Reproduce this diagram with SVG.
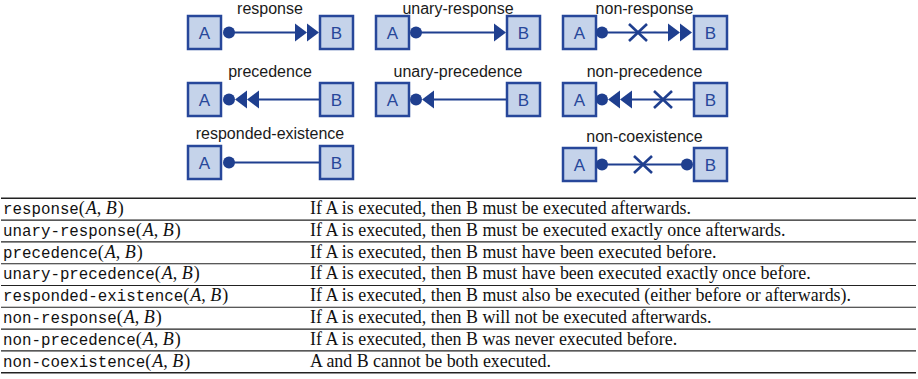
<svg xmlns="http://www.w3.org/2000/svg" width="918" height="379" viewBox="0 0 918 379">
<style>
.box{fill:#c5d3ea;stroke:#27479a;stroke-width:2.5}
.bl{font-family:"Liberation Sans",Arial,sans-serif;font-size:17px;fill:#27479a;text-anchor:middle}
.lab{font-family:"Liberation Sans",Arial,sans-serif;font-size:16px;fill:#1a1a1a;text-anchor:middle}
.ln{stroke:#1f3f8f;stroke-width:2.2;fill:none}
.dot{fill:#1f3f8f}
.tri{fill:#1f3f8f}
.x{stroke:#1f3f8f;stroke-width:2.6;fill:none}
.rule{stroke:#222;stroke-width:1.1}
.rule2{stroke:#222;stroke-width:1.6}
.tt{font-family:"Liberation Mono","Courier New",monospace;font-size:15.8px;fill:#111}
.m{font-family:"Liberation Serif","Times New Roman",serif;font-size:18px;fill:#111}
.mi{font-style:italic}
.d{font-family:"Liberation Serif","Times New Roman",serif;font-size:17.9px;fill:#111}
</style>

<!-- Labels -->
<g id="labels">
<text class="lab" x="270" y="13.5">response</text>
<text class="lab" x="458" y="13.5">unary-response</text>
<text class="lab" x="644.5" y="13.5">non-response</text>
<text class="lab" x="270" y="77">precedence</text>
<text class="lab" x="458" y="77">unary-precedence</text>
<text class="lab" x="644.5" y="77">non-precedence</text>
<text class="lab" x="270" y="139">responded-existence</text>
<text class="lab" x="644.5" y="142">non-coexistence</text>
</g>

<!-- Nodes -->
<g id="resp-A"><rect class="box" x="188" y="16" width="33" height="33"/><text class="bl" x="204.5" y="38.5">A</text></g>
<g id="resp-B"><rect class="box" x="320" y="16" width="33" height="33"/><text class="bl" x="336.5" y="38.5">B</text></g>
<g id="uresp-A"><rect class="box" x="376" y="16" width="33" height="33"/><text class="bl" x="392.5" y="38.5">A</text></g>
<g id="uresp-B"><rect class="box" x="507" y="16" width="33" height="33"/><text class="bl" x="523.5" y="38.5">B</text></g>
<g id="nresp-A"><rect class="box" x="563" y="16" width="33" height="33"/><text class="bl" x="579.5" y="38.5">A</text></g>
<g id="nresp-B"><rect class="box" x="694" y="16" width="33" height="33"/><text class="bl" x="710.5" y="38.5">B</text></g>

<g id="prec-A"><rect class="box" x="188" y="83" width="33" height="33"/><text class="bl" x="204.5" y="105.5">A</text></g>
<g id="prec-B"><rect class="box" x="320" y="83" width="33" height="33"/><text class="bl" x="336.5" y="105.5">B</text></g>
<g id="uprec-A"><rect class="box" x="376" y="83" width="33" height="33"/><text class="bl" x="392.5" y="105.5">A</text></g>
<g id="uprec-B"><rect class="box" x="507" y="83" width="33" height="33"/><text class="bl" x="523.5" y="105.5">B</text></g>
<g id="nprec-A"><rect class="box" x="563" y="83" width="33" height="33"/><text class="bl" x="579.5" y="105.5">A</text></g>
<g id="nprec-B"><rect class="box" x="694" y="83" width="33" height="33"/><text class="bl" x="710.5" y="105.5">B</text></g>

<g id="rex-A"><rect class="box" x="188" y="146" width="33" height="33"/><text class="bl" x="204.5" y="168.5">A</text></g>
<g id="rex-B"><rect class="box" x="320" y="146" width="33" height="33"/><text class="bl" x="336.5" y="168.5">B</text></g>
<g id="ncoex-A"><rect class="box" x="563" y="148" width="33" height="33"/><text class="bl" x="579.5" y="170.5">A</text></g>
<g id="ncoex-B"><rect class="box" x="694" y="148" width="33" height="33"/><text class="bl" x="710.5" y="170.5">B</text></g>

<!-- Connectors -->
<g id="connectors">
<!-- response -->
<line class="ln" x1="229" y1="32.5" x2="300" y2="32.5"/>
<circle class="dot" cx="229" cy="32.5" r="6"/>
<polygon class="tri" points="295,23.5 307,32.5 295,41.5"/>
<polygon class="tri" points="307,23.5 319,32.5 307,41.5"/>
<!-- unary-response -->
<line class="ln" x1="416" y1="32.5" x2="496" y2="32.5"/>
<circle class="dot" cx="416" cy="32.5" r="6"/>
<polygon class="tri" points="494,23.5 506,32.5 494,41.5"/>
<!-- non-response -->
<line class="ln" x1="602" y1="32.5" x2="672" y2="32.5"/>
<circle class="dot" cx="602" cy="32.5" r="6"/>
<path class="x" d="M629,24 L647,41 M647,24 L629,41"/>
<polygon class="tri" points="668,23.5 680,32.5 668,41.5"/>
<polygon class="tri" points="680,23.5 692,32.5 680,41.5"/>

<!-- precedence -->
<line class="ln" x1="255" y1="99.5" x2="319" y2="99.5"/>
<circle class="dot" cx="229" cy="99.5" r="6"/>
<polygon class="tri" points="247,90.5 235,99.5 247,108.5"/>
<polygon class="tri" points="259,90.5 247,99.5 259,108.5"/>
<!-- unary-precedence -->
<line class="ln" x1="430" y1="99.5" x2="506" y2="99.5"/>
<circle class="dot" cx="416" cy="99.5" r="6"/>
<polygon class="tri" points="434,90.5 422,99.5 434,108.5"/>
<!-- non-precedence -->
<line class="ln" x1="628" y1="99.5" x2="693" y2="99.5"/>
<circle class="dot" cx="602" cy="99.5" r="6"/>
<polygon class="tri" points="620,90.5 608,99.5 620,108.5"/>
<polygon class="tri" points="632,90.5 620,99.5 632,108.5"/>
<path class="x" d="M654,91 L672,108 M672,91 L654,108"/>

<!-- responded-existence -->
<line class="ln" x1="229" y1="162.5" x2="319" y2="162.5"/>
<circle class="dot" cx="229" cy="162.5" r="6"/>
<!-- non-coexistence -->
<line class="ln" x1="602" y1="164.5" x2="687" y2="164.5"/>
<circle class="dot" cx="602" cy="164.5" r="6"/>
<circle class="dot" cx="687" cy="164.5" r="6"/>
<path class="x" d="M634,156 L652,173 M652,156 L634,173"/>
</g>

<!-- Table -->
<g id="table">
<line class="rule2" x1="1" y1="198.3" x2="916" y2="198.3"/>
<line class="rule" x1="1" y1="220.1" x2="916" y2="220.1"/>
<line class="rule" x1="1" y1="241.9" x2="916" y2="241.9"/>
<line class="rule" x1="1" y1="263.7" x2="916" y2="263.7"/>
<line class="rule" x1="1" y1="285.5" x2="916" y2="285.5"/>
<line class="rule" x1="1" y1="307.3" x2="916" y2="307.3"/>
<line class="rule" x1="1" y1="329.1" x2="916" y2="329.1"/>
<line class="rule" x1="1" y1="350.9" x2="916" y2="350.9"/>
<line class="rule2" x1="1" y1="372.7" x2="916" y2="372.7"/>

<text x="3" y="214"><tspan class="tt">response</tspan><tspan class="m">(<tspan class="mi" dx="1">A</tspan>,<tspan class="mi" dx="4.5">B</tspan><tspan dx="1">)</tspan></tspan></text>
<text x="3" y="235.8"><tspan class="tt">unary-response</tspan><tspan class="m">(<tspan class="mi" dx="1">A</tspan>,<tspan class="mi" dx="4.5">B</tspan><tspan dx="1">)</tspan></tspan></text>
<text x="3" y="257.6"><tspan class="tt">precedence</tspan><tspan class="m">(<tspan class="mi" dx="1">A</tspan>,<tspan class="mi" dx="4.5">B</tspan><tspan dx="1">)</tspan></tspan></text>
<text x="3" y="279.4"><tspan class="tt">unary-precedence</tspan><tspan class="m">(<tspan class="mi" dx="1">A</tspan>,<tspan class="mi" dx="4.5">B</tspan><tspan dx="1">)</tspan></tspan></text>
<text x="3" y="301.2"><tspan class="tt">responded-existence</tspan><tspan class="m">(<tspan class="mi" dx="1">A</tspan>,<tspan class="mi" dx="4.5">B</tspan><tspan dx="1">)</tspan></tspan></text>
<text x="3" y="323"><tspan class="tt">non-response</tspan><tspan class="m">(<tspan class="mi" dx="1">A</tspan>,<tspan class="mi" dx="4.5">B</tspan><tspan dx="1">)</tspan></tspan></text>
<text x="3" y="344.8"><tspan class="tt">non-precedence</tspan><tspan class="m">(<tspan class="mi" dx="1">A</tspan>,<tspan class="mi" dx="4.5">B</tspan><tspan dx="1">)</tspan></tspan></text>
<text x="3" y="366.6"><tspan class="tt">non-coexistence</tspan><tspan class="m">(<tspan class="mi" dx="1">A</tspan>,<tspan class="mi" dx="4.5">B</tspan><tspan dx="1">)</tspan></tspan></text>

<text class="d" x="310" y="214">If A is executed, then B must be executed afterwards.</text>
<text class="d" x="310" y="235.8">If A is executed, then B must be executed exactly once afterwards.</text>
<text class="d" x="310" y="257.6">If A is executed, then B must have been executed before.</text>
<text class="d" x="310" y="279.4">If A is executed, then B must have been executed exactly once before.</text>
<text class="d" x="310" y="301.2">If A is executed, then B must also be executed (either before or afterwards).</text>
<text class="d" x="310" y="323">If A is executed, then B will not be executed afterwards.</text>
<text class="d" x="310" y="344.8">If A is executed, then B was never executed before.</text>
<text class="d" x="310" y="366.6">A and B cannot be both executed.</text>
</g>
</svg>
